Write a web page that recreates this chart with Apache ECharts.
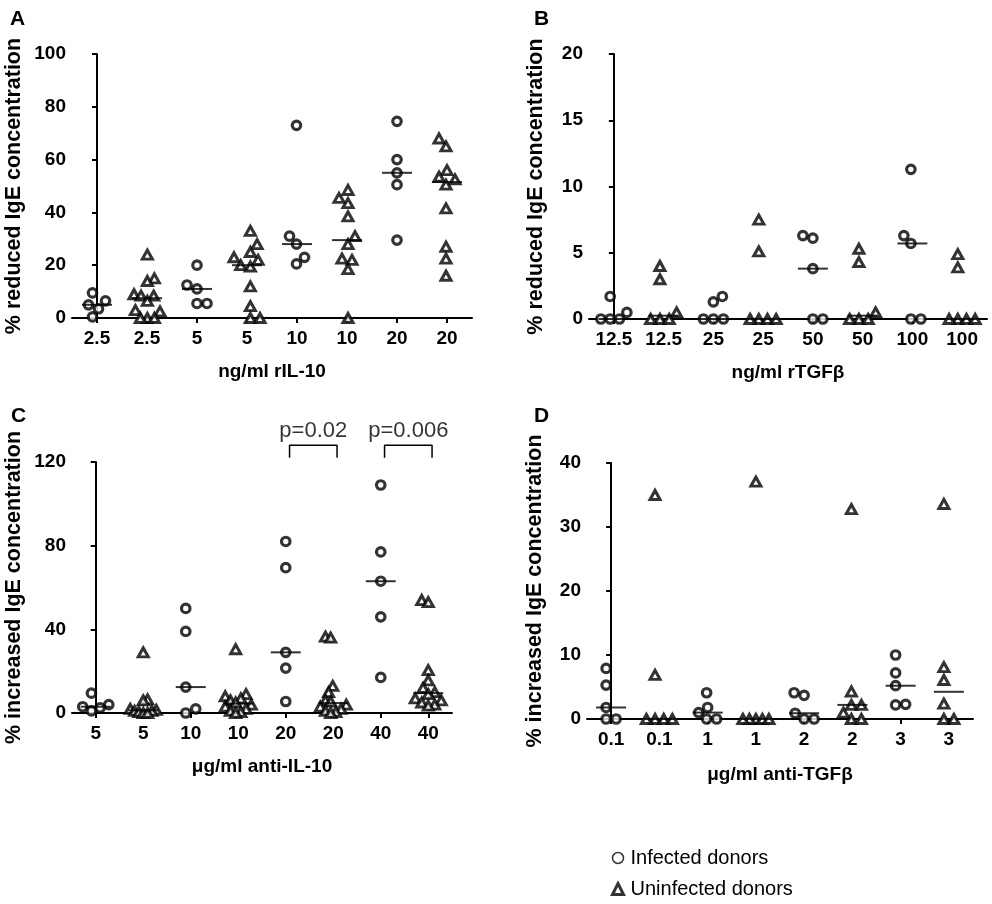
<!DOCTYPE html>
<html>
<head>
<meta charset="utf-8">
<title>IgE concentration</title>
<script src="https://cdn.jsdelivr.net/npm/echarts@6/dist/echarts.min.js"></script>
<style>
  html, body { margin: 0; padding: 0; background: #fff; }
  #chart { width: 992px; height: 904px; }
</style>
</head>
<body>
<div id="chart"></div>
<script>
// ---- data ----
// every panel: 8 groups, infected (circles) in groups 1,3,5,7 and uninfected (triangles) in 2,4,6,8
var aCats = ['2.5', '2.5', '5', '5', '10', '10', '20', '20'];
var aInfected = [
  [9.5, 5, 0.4, 6.5, 3.5],
  [20, 11, 12.5, 5.5, 5.5],
  [73, 31, 28, 23, 20.5],
  [74.5, 60, 55, 50.5, 29.5]
];
var aUninfected = [
  [24, 15, 14, 9, 8.5, 8.5, 6.5, 3, 2.5, 0, 0, 0],
  [33, 28, 25, 23, 22, 20, 19.5, 12, 4.5, 0, 0],
  [48.5, 45.5, 43.5, 38.5, 31, 28, 22.5, 22, 18.5, 0],
  [68, 65, 56, 53.5, 52.5, 50.5, 41.5, 27, 22.5, 16]
];

var bCats = ['12.5', '12.5', '25', '25', '50', '50', '100', '100'];
var bInfected = [
  [1.7, 0.5, 0, 0, 0],
  [1.7, 1.3, 0, 0, 0],
  [6.1, 6.3, 3.8, 0, 0],
  [11.3, 6.3, 5.7, 0, 0]
];
var bUninfected = [
  [4, 3, 0.5, 0, 0, 0],
  [7.5, 5.1, 0, 0, 0, 0],
  [5.3, 4.3, 0.5, 0, 0, 0],
  [4.9, 3.9, 0, 0, 0, 0]
];

var cCats = ['5', '5', '10', '10', '20', '20', '40', '40'];
var cInfected = [
  [9.5, 4, 3, 2.5, 1],
  [50, 39, 12.4, 2, 0],
  [82, 69.5, 29, 21.5, 5.5],
  [109, 77, 63, 46, 17]
];
var cUninfected = [
  [29, 6.5, 6, 2, 1.5, 1, 1, 0.5, 0, 0],
  [30.5, 9, 8, 7, 6, 5, 4, 3, 2, 1, 0.5, 0],
  [36.5, 36, 13, 10, 6, 5.5, 4, 3, 2, 1, 0.5, 0],
  [54, 53, 20.5, 15.6, 12, 10, 9, 7, 6, 5, 4, 3.5]
];
var cPvalues = [
  { from: 4, to: 5, text: 'p=0.02' },
  { from: 6, to: 7, text: 'p=0.006' }
];

var dCats = ['0.1', '0.1', '1', '1', '2', '2', '3', '3'];
var dInfected = [
  [7.9, 5.3, 1.8, 0, 0],
  [4.1, 1.8, 1, 0, 0],
  [4.1, 3.7, 0.9, 0, 0],
  [10, 7.2, 5.2, 2.3, 2.2]
];
var dUninfected = [
  [35, 6.9, 0, 0, 0, 0],
  [37.1, 0, 0, 0, 0, 0],
  [32.8, 4.3, 2.2, 2.2, 1, 0, 0],
  [33.6, 8.1, 6.1, 2.4, 0, 0]
];

// ---- layout ----
var FONT = '"Liberation Sans", Arial, sans-serif';
var panels = [
  { letter: 'A', cats: aCats, inf: aInfected, uninf: aUninfected, max: 100, interval: 20,
    yName: '% reduced IgE concentration', xName: 'ng/ml rIL-10',
    grid: { left: 72, top: 54, width: 400, height: 264 }, yGap: 47, xGap: 44, title: [5, 4] },
  { letter: 'B', cats: bCats, inf: bInfected, uninf: bUninfected, max: 20, interval: 5,
    yName: '% reduced IgE concentration', xName: 'ng/ml rTGF\u03b2',
    grid: { left: 589, top: 54, width: 398, height: 265 }, yGap: 42, xGap: 44, title: [529, 4] },
  { letter: 'C', cats: cCats, inf: cInfected, uninf: cUninfected, max: 120, interval: 40,
    yName: '% increased IgE concentration', xName: '\u03bcg/ml anti-IL-10',
    grid: { left: 72, top: 462, width: 380, height: 251 }, yGap: 47, xGap: 44, title: [6, 401] },
  { letter: 'D', cats: dCats, inf: dInfected, uninf: dUninfected, max: 40, interval: 10,
    yName: '% increased IgE concentration', xName: '\u03bcg/ml anti-TGF\u03b2',
    grid: { left: 587, top: 463, width: 386, height: 256 }, yGap: 41, xGap: 46, title: [529, 401] }
];

// horizontal spreading of points in one column (beeswarm, pixel space)
function swarm(values, pxPerUnit, bandPx) {
  var d = 10, maxHalf = 13;
  var order = values.map(function (v, i) { return i; })
    .sort(function (a, b) { return values[a] - values[b]; });
  var placed = [], offs = [], sum = 0;
  order.forEach(function (i) {
    var y = values[i] * pxPerUnit, best = null;
    for (var k = 0; k <= 60 && best === null; k++) {
      var cands = k === 0 ? [0] : (sum > 0 ? [-k, k] : [k, -k]);
      for (var c = 0; c < cands.length; c++) {
        var x = cands[c];
        var ok = placed.every(function (p) { return Math.hypot(p.x - x, p.y - y) >= d; });
        if (ok) { best = x; break; }
      }
    }
    placed.push({ x: best, y: y });
    sum += best;
    offs[i] = best;
  });
  var lo = Math.min.apply(null, offs), hi = Math.max.apply(null, offs);
  var shift = -(lo + hi) / 2;
  var half = (hi - lo) / 2;
  var scale = half > maxHalf ? maxHalf / half : 1;
  return offs.map(function (o) { return (o + shift) * scale / bandPx; });
}

function median(arr) {
  var s = arr.slice().sort(function (a, b) { return a - b; });
  var m = Math.floor(s.length / 2);
  return s.length % 2 ? s[m] : (s[m - 1] + s[m]) / 2;
}

var option = {
  animation: false,
  backgroundColor: '#fff',
  title: [],
  grid: [],
  xAxis: [],
  yAxis: [],
  series: [],
  legend: {
    orient: 'vertical',
    left: 606,
    top: 843,
    itemGap: 11,
    itemWidth: 11,
    itemHeight: 11,
    selectedMode: false,
    textStyle: { fontFamily: FONT, fontSize: 20, color: '#000', padding: [0, 0, 0, 2] },
    data: [
      { name: 'Infected donors', icon: 'circle',
        itemStyle: { color: '#fff', borderColor: '#000', borderWidth: 1.5 } },
      { name: 'Uninfected donors', icon: 'triangle',
        itemStyle: { color: '#fff', borderColor: '#000', borderWidth: 3 } }
    ]
  }
};

var boldLabel = { fontFamily: FONT, fontSize: 19, fontWeight: 'bold', color: '#000' };
var axisLine = { show: true, lineStyle: { color: '#000', width: 2 } };
var axisTick = { show: true, length: 5, lineStyle: { color: '#000', width: 2 } };

panels.forEach(function (p, k) {
  option.title.push({
    text: p.letter, left: p.title[0], top: p.title[1],
    textStyle: { fontFamily: FONT, fontSize: 21, fontWeight: 'bold', color: '#000' }
  });
  option.grid.push(p.grid);
  option.xAxis.push({
    type: 'category', gridIndex: k, data: p.cats,
    name: p.xName, nameLocation: 'middle', nameGap: p.xGap,
    nameTextStyle: { fontFamily: FONT, fontSize: 19, fontWeight: 'bold', color: '#000' },
    axisLine: axisLine,
    axisTick: { show: true, alignWithLabel: true, length: 5, lineStyle: { color: '#000', width: 2 } },
    axisLabel: Object.assign({ margin: 11, interval: 0 }, boldLabel),
    splitLine: { show: false }
  });
  option.xAxis.push({
    type: 'value', gridIndex: k, min: -0.5, max: 7.5, show: false
  });
  option.yAxis.push({
    type: 'value', gridIndex: k, min: 0, max: p.max, interval: p.interval,
    name: p.yName, nameLocation: 'middle', nameGap: p.yGap,
    nameTextStyle: { fontFamily: FONT, fontSize: 21.5, fontWeight: 'bold', color: '#000' },
    axisLine: axisLine,
    axisTick: axisTick,
    axisLabel: Object.assign({ margin: 6 }, boldLabel),
    splitLine: { show: false }
  });

  var pxPerUnit = p.grid.height / p.max;
  var bandPx = p.grid.width / 8;
  var infData = [], uninfData = [], medData = [];
  p.inf.forEach(function (vals, j) {
    var off = swarm(vals, pxPerUnit, bandPx);
    vals.forEach(function (v, i) { infData.push([2 * j + off[i], v]); });
    medData.push([2 * j, median(vals)]);
  });
  p.uninf.forEach(function (vals, j) {
    var off = swarm(vals, pxPerUnit, bandPx);
    vals.forEach(function (v, i) { uninfData.push([2 * j + 1 + off[i], v]); });
    medData.push([2 * j + 1, median(vals)]);
  });

  option.series.push({
    name: 'Infected donors', type: 'scatter', xAxisIndex: 2 * k + 1, yAxisIndex: k,
    symbol: 'circle', symbolSize: 8.5, clip: false,
    itemStyle: { color: '#fff', borderColor: '#000', borderWidth: 3.2 },
    data: infData, z: 3
  });
  option.series.push({
    name: 'Uninfected donors', type: 'scatter', xAxisIndex: 2 * k + 1, yAxisIndex: k,
    symbol: 'triangle', symbolSize: [10, 9], clip: false,
    itemStyle: { color: '#fff', borderColor: '#000', borderWidth: 3 },
    data: uninfData, z: 3
  });
  option.series.push({
    name: 'median', type: 'scatter', xAxisIndex: 2 * k + 1, yAxisIndex: k,
    symbol: 'rect', symbolSize: [30, 2], clip: false,
    itemStyle: { color: '#000' },
    data: medData, z: 4
  });
});

// p-value brackets on panel C
var brLow = 122, brHigh = 128, brShift = 0.08;
cPvalues.forEach(function (b) {
  option.series.push({
    type: 'line', xAxisIndex: 5, yAxisIndex: 2, clip: false, symbol: 'none',
    lineStyle: { color: '#000', width: 1.5 },
    data: [[b.from + brShift, brLow], [b.from + brShift, brHigh], [b.to + brShift, brHigh], [b.to + brShift, brLow]]
  });
  option.series.push({
    type: 'scatter', xAxisIndex: 5, yAxisIndex: 2, clip: false, symbolSize: 0,
    label: { show: true, position: 'top', distance: 3, formatter: b.text,
      fontFamily: FONT, fontSize: 22, color: '#000' },
    data: [[(b.from + b.to) / 2 + brShift, brHigh]]
  });
});

var chart = echarts.init(document.getElementById('chart'));
chart.setOption(option);
</script>
</body>
</html>
